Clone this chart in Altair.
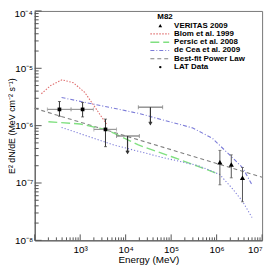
import altair as alt
import pandas as pd

# ---------------- data ----------------
lat_E = [350, 1130, 3600]
lat_F = [1.92e-6, 1.92e-6, 8.6e-7]
lat_F_lo = [1.46e-6, 1.42e-6, 4.3e-7]
lat_F_hi = [2.64e-6, 2.54e-6, 1.3e-6]
lat_E_lo = [190, 630, 2000]
lat_E_hi = [630, 1950, 6300]

ul_E = [1.1e4, 3.5e4]
ul_F = [6.6e-7, 2.1e-6]
ul_E_lo = [6300, 1.9e4]
ul_E_hi = [2.0e4, 6.5e4]

ver_E = [1.18e6, 2.1e6, 3.7e6]
ver_F = [2.3e-7, 2.1e-7, 1.23e-7]
ver_F_lo = [9.3e-8, 1.23e-7, 4.7e-8]
ver_F_hi = [3.7e-7, 3.1e-7, 1.86e-7]

blom_E = [140, 224, 398, 708, 1259, 2000, 2818, 3800]
blom_F = [3.6e-6, 5.0e-6, 6.3e-6, 5.6e-6, 3.8e-6, 2.24e-6, 1.5e-6, 1.07e-6]

persic_E = [200, 1000, 3700, 5500, 1.9e4, 1e5, 3.9e5, 1.17e6]
persic_F = [1.17e-6, 1.07e-6, 8.5e-7, 7.4e-7, 4.6e-7, 2.9e-7, 1.95e-7, 1.41e-7]

decea1_E = [390, 1.9e4, 3.0e5, 8.1e5, 2.24e6, 3.7e6, 6.0e6]
decea1_F = [3.09e-6, 1.64e-6, 9.1e-7, 6.0e-7, 2.75e-7, 1.86e-7, 9.3e-8]

decea2_E = [390, 5500, 6.3e4, 4.0e5, 1.17e6, 2.24e6, 3.7e6, 6.0e6]
decea2_F = [9.3e-7, 4.6e-7, 2.8e-7, 2.0e-7, 1.41e-7, 7.9e-8, 4.8e-8, 2.5e-8]

pl_E = [100, 1e7]
pl_F = [2.0e-6, 1.26e-7]

x_major = [1e2, 1e3, 1e4, 1e5, 1e6, 1e7]
x_labels = [1e3, 1e4, 1e5, 1e6, 1e7]
y_major = [1e-8, 1e-7, 1e-6, 1e-5, 1e-4]
y_labels = [1e-8, 1e-7, 1e-6, 1e-5]
y_top_label = "10⁻⁴"

legend_title = "M82"
legend_labels = ["VERITAS 2009", "Blom et al. 1999", "Persic et al. 2008",
                 "de Cea et al. 2009", "Best-fit Power Law", "LAT Data"]

# ---------------- styling ----------------
FONT = "Liberation Sans"
W, H = 230, 232
AX = "#555555"
RED = "#e07070"
GREEN = "#80e080"
BLUE = "#7b7bd8"
GRAY = "#808080"

xs = alt.Scale(type="log", domain=[1e2, 1e7])
ys = alt.Scale(type="log", domain=[1e-8, 1e-4])

sup = "['⁰','¹','²','³','⁴','⁵','⁶','⁷','⁸','⁹'][abs(round(log(datum.value)/LN10))]"
x_expr = "'10' + " + sup
y_expr = "'10' + (datum.value < 1 ? '⁻' : '') + " + sup

X_AXIS = alt.Axis(
    values=x_labels, labelExpr=x_expr, ticks=False, tickSize=0, grid=False,
    title="Energy (MeV)", labelFontSize=10, labelFont=FONT,
    labelBaseline="alphabetic", labelPadding=12, domainColor=AX,
    titleFont=FONT, titleFontSize=10, titleFontWeight="normal",
    titleBaseline="alphabetic", titleY=22.5, labelColor="black", titleColor="black")
Y_AXIS = alt.Axis(
    values=y_labels, labelExpr=y_expr, ticks=False, tickSize=0, grid=False,
    title="E² dN/dE (MeV cm⁻² s⁻¹)", labelFontSize=10, labelFont=FONT,
    labelPadding=2, domainColor=AX, titleFont=FONT, titleFontSize=9,
    titleFontWeight="normal", titleX=-23, titleY=H / 2, titleAlign="center",
    titleBaseline="middle", labelColor="black", titleColor="black")


def X(f):
    return alt.X(f, type="quantitative", scale=xs, axis=X_AXIS)


def Y(f):
    return alt.Y(f, type="quantitative", scale=ys, axis=Y_AXIS)


# inside ticks
x_minor = [m * 10 ** k for k in range(2, 7) for m in range(2, 10)]
y_minor = [m * 10.0 ** k for k in range(-8, -4) for m in range(2, 10)]

xt_major = alt.Chart(pd.DataFrame({"E": x_major})).mark_rule(color=AX, strokeWidth=1).encode(
    x=X("E"), y=alt.value(H), y2=alt.value(H - 6))
xt_minor = alt.Chart(pd.DataFrame({"E": x_minor})).mark_rule(color=AX, strokeWidth=1).encode(
    x=X("E"), y=alt.value(H), y2=alt.value(H - 3))
yt_major = alt.Chart(pd.DataFrame({"F": y_major})).mark_rule(color=AX, strokeWidth=1).encode(
    y=Y("F"), x=alt.value(0), x2=alt.value(7))
yt_minor = alt.Chart(pd.DataFrame({"F": y_minor})).mark_rule(color=AX, strokeWidth=1).encode(
    y=Y("F"), x=alt.value(0), x2=alt.value(4))

# top y label drawn as text (nudged so it is not clipped by the page edge)
y_top = alt.Chart(pd.DataFrame({"F": [1e-4], "t": [y_top_label]})).mark_text(
    align="right", baseline="middle", font=FONT, fontSize=10, color="black", dx=-2, dy=3
).encode(x=alt.value(0), y=Y("F"), text="t:N")


# model curves
def curve(E, F, color, dash, width=1.1):
    return alt.Chart(pd.DataFrame({"E": E, "F": F})).mark_line(
        color=color, strokeDash=dash, strokeWidth=width, clip=True
    ).encode(x=X("E"), y=Y("F"))


blom = curve(blom_E, blom_F, RED, [1.5, 1.5])
persic = curve(persic_E, persic_F, GREEN, [9, 4], 1.4)
decea1 = curve(decea1_E, decea1_F, BLUE, [4, 2, 1, 2])
decea2 = curve(decea2_E, decea2_F, BLUE, [1.2, 2])
plaw = curve(pl_E, pl_F, GRAY, [4, 3])


def hcaps(df, lo, hi, y, color):
    return [alt.Chart(df).mark_tick(orient="vertical", size=4, thickness=1, color=color).encode(x=X(f), y=Y(y))
            for f in (lo, hi)]


def vcaps(df, x, lo, hi, color):
    return [alt.Chart(df).mark_tick(orient="horizontal", size=3, thickness=1, color=color).encode(x=X(x), y=Y(f))
            for f in (lo, hi)]


# LAT data
lat = pd.DataFrame({"E": lat_E, "F": lat_F, "Flo": lat_F_lo, "Fhi": lat_F_hi,
                    "Elo": lat_E_lo, "Ehi": lat_E_hi})
lat_h = alt.Chart(lat).mark_rule(color="#999999", strokeWidth=1.2).encode(
    x=X("Elo"), x2="Ehi", y=Y("F"))
lat_v = alt.Chart(lat).mark_rule(color="#333333", strokeWidth=1).encode(
    x=X("E"), y=Y("Flo"), y2="Fhi")
lat_pts = alt.Chart(lat).mark_square(color="black", size=14, opacity=1).encode(x=X("E"), y=Y("F"))

# upper limits
ul = pd.DataFrame({"E": ul_E, "F": ul_F, "Elo": ul_E_lo, "Ehi": ul_E_hi})
ul["tip"] = ul["F"] * 0.5
ul_h = alt.Chart(ul).mark_rule(color="#777777", strokeWidth=1.2).encode(
    x=X("Elo"), x2="Ehi", y=Y("F"))
ul_v = alt.Chart(ul).mark_rule(color="#333333", strokeWidth=1.2).encode(
    x=X("E"), y=Y("F"), y2="tip")
ul_head = alt.Chart(ul).mark_point(
    shape="M-0.7,-1.2L0,0L0.7,-1.2", filled=False, color="#333333", strokeWidth=1.1, size=20, opacity=1
).encode(x=X("E"), y=Y("tip"))

# VERITAS
ver = pd.DataFrame({"E": ver_E, "F": ver_F, "Flo": ver_F_lo, "Fhi": ver_F_hi})
ver_v = alt.Chart(ver).mark_rule(color="#555555", strokeWidth=1).encode(
    x=X("E"), y=Y("Flo"), y2="Fhi")
ver_pts = alt.Chart(ver).mark_point(shape="triangle-up", filled=True, color="black", size=28, opacity=1).encode(
    x=X("E"), y=Y("F"))

# legend (drawn in pixel space)
LX_TXT = 141
LX0, LX1 = 117, 136
LXSYM = 127
L_Y0 = 14.8
L_DY = 8.4
one = pd.DataFrame({"k": [0]})

legend_layers = [
    alt.Chart(one).mark_text(align="left", baseline="middle", font=FONT, fontSize=8,
                             fontWeight="bold", color="black", text=legend_title).encode(
        x=alt.value(124), y=alt.value(5.8))
]
for i, lab in enumerate(legend_labels):
    py = L_Y0 + L_DY * i
    legend_layers.append(
        alt.Chart(one).mark_text(align="left", baseline="middle", font=FONT, fontSize=8,
                                 fontWeight="bold", color="black", text=lab).encode(
            x=alt.value(LX_TXT), y=alt.value(py)))

styles = {1: (RED, [1.5, 1.5], 1.1), 2: (GREEN, [9, 4], 1.4), 3: (BLUE, [4, 2, 1, 2], 1.1), 4: (GRAY, [4, 3], 1.1)}
for i, (c, d, w) in styles.items():
    py = L_Y0 + L_DY * i
    legend_layers.append(
        alt.Chart(one).mark_rule(color=c, strokeDash=d, strokeWidth=w).encode(
            x=alt.value(LX0), x2=alt.value(LX1), y=alt.value(py)))
legend_layers.append(
    alt.Chart(one).mark_point(shape="triangle-up", filled=True, color="black", size=14, opacity=1).encode(
        x=alt.value(LXSYM), y=alt.value(L_Y0)))
legend_layers.append(
    alt.Chart(one).mark_point(shape="circle", filled=True, color="black", size=6, opacity=1).encode(
        x=alt.value(LXSYM), y=alt.value(L_Y0 + 5 * L_DY)))

chart = alt.layer(
    xt_major, xt_minor, yt_major, yt_minor, y_top,
    plaw, blom, persic, decea2, decea1,
    lat_h, *hcaps(lat, "Elo", "Ehi", "F", "#999999"), lat_v, *vcaps(lat, "E", "Flo", "Fhi", "#333333"), lat_pts,
    ul_h, *hcaps(ul, "Elo", "Ehi", "F", "#777777"), ul_v, ul_head,
    ver_v, *vcaps(ver, "E", "Flo", "Fhi", "#555555"), ver_pts,
    *legend_layers,
).properties(
    width=W, height=H,
    autosize=alt.AutoSizeParams(type="none"),
    padding={"left": 27, "top": 1.5, "right": 10, "bottom": 27},
    background="white",
).configure_view(stroke="#777777", strokeWidth=1)

chart.save("out.html", embed_options={"renderer": "svg", "actions": False})
